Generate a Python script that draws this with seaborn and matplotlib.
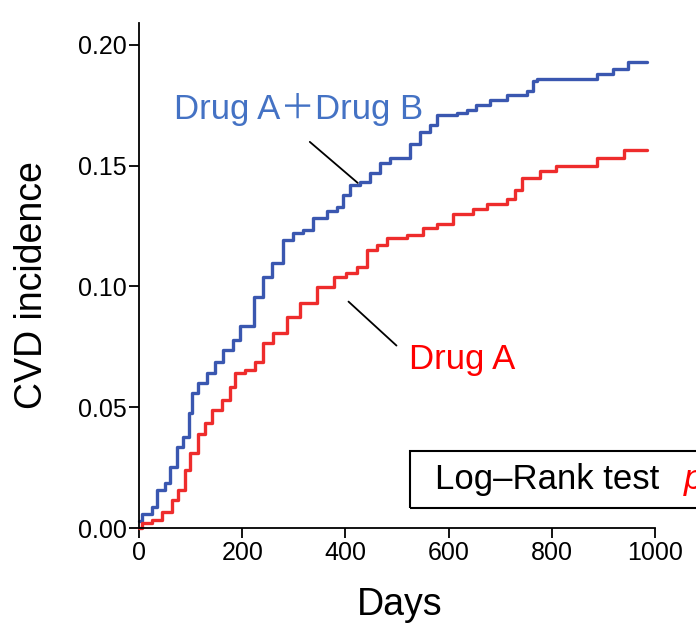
import numpy as np
import pandas as pd
import seaborn as sns
import matplotlib.pyplot as plt
from matplotlib.patches import Rectangle

# cumulative incidence (day, value)
combo_days = [0, 5, 25, 34, 50, 60, 73, 86, 96, 102, 115, 131, 147, 163, 183, 196,
              222, 241, 257, 280, 299, 318, 338, 364, 383, 396, 409, 428, 448, 467,
              486, 525, 545, 564, 577, 616, 635, 654, 680, 713, 751, 764, 771, 887,
              919, 948, 984]
combo_vals = [0.003, 0.006, 0.0088, 0.0157, 0.0185, 0.0254, 0.0337, 0.0378, 0.0475,
              0.0558, 0.060, 0.064, 0.0689, 0.0737, 0.0778, 0.0834, 0.0958, 0.104,
              0.1096, 0.1193, 0.122, 0.1234, 0.1282, 0.131, 0.133, 0.1379, 0.142,
              0.1434, 0.147, 0.151, 0.153, 0.159, 0.164, 0.1669, 0.171, 0.1717, 0.173,
              0.175, 0.177, 0.179, 0.181, 0.185, 0.186, 0.188, 0.190, 0.1927, 0.1927]

mono_days = [0, 5, 25, 44, 63, 76, 89, 99, 115, 128, 141, 160, 176, 186, 205, 225,
             241, 260, 286, 312, 344, 377, 402, 422, 441, 461, 480, 519, 551, 577,
             609, 648, 674, 713, 729, 742, 777, 809, 887, 939, 984]
mono_vals = [0.0, 0.002, 0.0033, 0.0068, 0.0116, 0.0157, 0.024, 0.031, 0.039, 0.0434,
             0.0489, 0.053, 0.0585, 0.064, 0.0654, 0.0689, 0.0765, 0.0806, 0.0875,
             0.093, 0.0999, 0.104, 0.1054, 0.1082, 0.1151, 0.1172, 0.120, 0.1213,
             0.124, 0.126, 0.130, 0.132, 0.134, 0.136, 0.140, 0.1448, 0.1476, 0.150,
             0.153, 0.1565, 0.1565]

df = pd.concat([
    pd.DataFrame({"Days": combo_days, "CVD": combo_vals, "group": "Drug A+Drug B"}),
    pd.DataFrame({"Days": mono_days, "CVD": mono_vals, "group": "Drug A"}),
])

sns.set_style("ticks")
plt.rcParams["font.family"] = ["Liberation Sans", "Noto Sans CJK JP", "DejaVu Sans"]
plt.rcParams["text.color"] = "black"
plt.rcParams["axes.labelcolor"] = "black"
plt.rcParams["xtick.color"] = "black"
plt.rcParams["ytick.color"] = "black"
plt.rcParams["axes.edgecolor"] = "black"

fig = plt.figure(figsize=(6.96, 6.31), dpi=100)
ax = fig.add_axes([139 / 696, 103 / 631, 557 / 696, 505 / 631])

sns.lineplot(data=df, x="Days", y="CVD", hue="group",
             palette={"Drug A+Drug B": "#3a57b0", "Drug A": "#ee2c2c"},
             drawstyle="steps-post", linewidth=2.4, estimator=None,
             legend=False, ax=ax, clip_on=False)

ax.set_xlim(0, 1000 * 557 / 516)
ax.set_ylim(0, 0.209)
ax.set_xticks([0, 200, 400, 600, 800, 1000])
ax.set_yticks([0, 0.05, 0.10, 0.15, 0.20])
ax.set_yticklabels(["0.00", "0.05", "0.10", "0.15", "0.20"])
ax.spines["right"].set_visible(False)
ax.spines["top"].set_visible(False)
ax.spines["bottom"].set_bounds(0, 1000)
ax.spines["left"].set_bounds(0, 0.209)
for s in ("left", "bottom"):
    ax.spines[s].set_linewidth(1.3)
    ax.spines[s].set_color("black")
ax.tick_params(labelsize=18, length=7, width=1.3, pad=2, colors="black")

ax.set_xlabel("Days", fontsize=27, color="black")
ax.set_ylabel("CVD incidence", fontsize=27, color="black")
ax.xaxis.label.set_va("center")
ax.yaxis.label.set_va("center")
ax.xaxis.set_label_coords(0.4686, -0.152)
ax.yaxis.set_label_coords(-0.192, 0.481)

# curve labels with leader lines
ax.text(310, 0.173, "Drug A\uff0bDrug B", color="#4472c4", fontsize=25,
        ha="center", va="center")
ax.plot([331, 424], [0.1598, 0.1428], color="black", lw=1.3)
ax.text(626, 0.0696, "Drug A", color="#ff0000", fontsize=25,
        ha="center", va="center")
ax.plot([406, 499], [0.0937, 0.0755], color="black", lw=1.3)

# log-rank box (runs off the right edge, as in the source figure)
ax.add_patch(Rectangle((525, 0.0083), 700, 0.0236, fill=False,
                       edgecolor="black", lw=1.5, clip_on=False))
ax.text(573, 0.0201, "Log\u2013Rank test", fontsize=25, ha="left", va="center",
        color="black")
ax.text(1056, 0.0201, "p < 0.05", fontsize=25, color="#ff0000",
        style="italic", ha="left", va="center", clip_on=False)

fig.savefig("out.png", dpi=100)
